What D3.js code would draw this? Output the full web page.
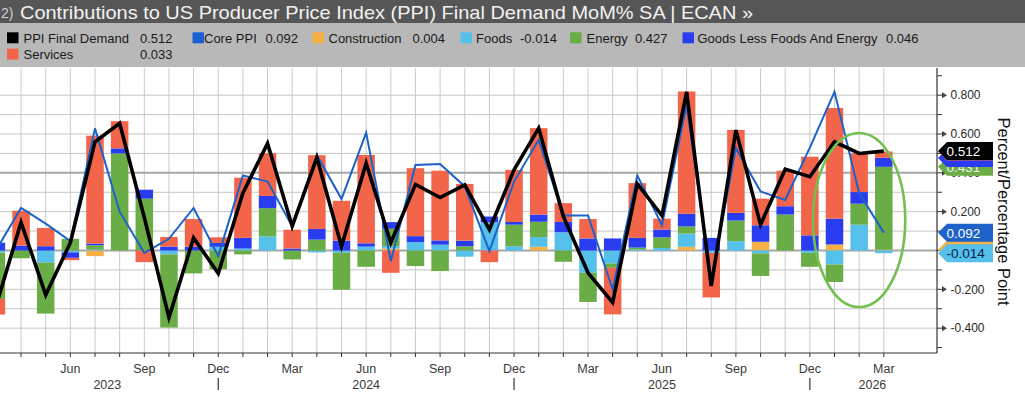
<!DOCTYPE html>
<html><head><meta charset="utf-8">
<script src="https://cdn.jsdelivr.net/npm/d3@7"></script>
<style>html,body{margin:0;padding:0;background:#fff;overflow:hidden}svg{display:block;font-family:"Liberation Sans",Arial,sans-serif}</style>
</head><body><svg id="c" width="1025" height="394"></svg>
<script>
const months = ["Mar 2023","Apr 2023","May 2023","Jun 2023","Jul 2023","Aug 2023","Sep 2023","Oct 2023","Nov 2023","Dec 2023","Jan 2024","Feb 2024","Mar 2024","Apr 2024","May 2024","Jun 2024","Jul 2024","Aug 2024","Sep 2024","Oct 2024","Nov 2024","Dec 2024","Jan 2025","Feb 2025","Mar 2025","Apr 2025","May 2025","Jun 2025","Jul 2025","Aug 2025","Sep 2025","Oct 2025","Nov 2025","Dec 2025","Jan 2026","Feb 2026","Mar 2026"];
const construction = [0,0,0,0,-0.029,0,0,0,0,0,0,0,0,0,0,0,0.01,0,0,0,0,0,0.019,0,0,0,0,0,0.019,0,0,0.045,0,0,0.031,0,0.004];
const foods = [-0.01,0,-0.063,-0.01,0.005,0,0,-0.02,0,0.019,0.01,0.073,0,-0.01,-0.012,0.02,0.012,0.043,0.03,-0.032,0.145,0.022,0.05,0.094,-0.115,-0.067,0.005,0.013,0.068,-0.012,0.048,-0.015,0,-0.012,-0.072,0.133,-0.014];
const energy = [-0.24,-0.04,-0.262,0.06,0.022,0.50,0.267,-0.377,-0.118,-0.097,-0.02,0.145,-0.046,0.056,-0.19,-0.084,0.09,-0.08,-0.106,0.022,0,0.111,0.079,-0.058,-0.15,-0.022,0.01,0.055,0.037,0,0.106,-0.116,0.185,-0.072,-0.09,0.108,0.427];
const goods = [0.04,0.025,0.022,-0.028,0.009,0.026,0.046,0.02,0.02,0.02,0.055,0.063,0.01,0.055,0.051,0.017,0.034,0.031,0.022,0.029,0.03,0.014,0.037,0.053,0.062,0.062,0.05,0.04,0.065,0.065,0.04,0.085,0.043,0.078,0.133,0.06,0.046];
const services = [-0.08,0.18,0.094,-0.012,0.555,0.14,-0.06,0.05,0.142,0.029,0.31,0.22,0.097,0.38,0.205,0.455,-0.115,0.35,0.359,0.292,-0.06,0.268,0.445,0.097,0.1,-0.24,0.282,0.056,0.63,-0.23,0.427,0.137,0.183,0.405,0.57,0.2,0.033];
const ppiFinal = [-0.28,0.145,-0.229,0.04,0.56,0.655,0.17,-0.345,0.065,-0.118,0.296,0.552,0.125,0.478,0.022,0.45,0.04,0.34,0.273,0.338,0.108,0.415,0.63,0.176,-0.115,-0.268,0.343,0.18,0.817,-0.183,0.62,0.133,0.419,0.38,0.56,0.50,0.512];
const corePPI = [0.005,0.219,0.138,0.048,0.629,0.20,-0.012,0.06,0.219,-0.029,0.386,0.355,0.125,0.492,0.265,0.607,-0.055,0.44,0.446,0.33,-0.003,0.355,0.57,0.18,0.18,-0.2,0.386,0.13,0.75,-0.15,0.527,0.304,0.26,0.53,0.817,0.296,0.092];
const gridValues = [-0.4,-0.3,-0.2,-0.1,0,0.1,0.2,0.3,0.4,0.5,0.6,0.7,0.8];
const axisTicks = [-0.5,-0.4,-0.3,-0.2,-0.1,0,0.1,0.2,0.3,0.4,0.5,0.6,0.7,0.8,0.9];
const axisLabels = [-0.4,-0.2,0.2,0.4,0.6,0.8];
const quarterMonths = ["Mar","Jun","Sep","Dec"];
const years = ["2023","2024","2025","2026"];
const title = "Contributions to US Producer Price Index (PPI) Final Demand MoM% SA | ECAN »";
const seriesNames = {ppi:"PPI Final Demand", core:"Core PPI", construction:"Construction", foods:"Foods", energy:"Energy", goods:"Goods Less Foods And Energy", services:"Services"};

const colors = {ppi:"#000000", core:"#1c62c8", construction:"#f5b046", foods:"#55c1ea", energy:"#6aac46", goods:"#2a3cf0", services:"#f2654a"};
const svg = d3.select("#c");
const P = {left:0, right:937, top:68, bottom:353};
const x = d3.scaleLinear().domain([0, months.length-1]).range([-3.6, 883.8]);
const y = d3.scaleLinear().domain([-0.528, 0.94]).range([P.bottom, P.top]);
const step = x(1)-x(0), bw = step*0.71;

// header
svg.append("rect").attr("x",0).attr("y",0).attr("width",1025).attr("height",23).attr("fill","#565656");
svg.append("rect").attr("x",0).attr("y",23).attr("width",1025).attr("height",44).attr("fill","#b8b8b8");
svg.append("text").attr("x",1).attr("y",18).attr("font-size",14).attr("fill","#d0d0d0").text("2)");
svg.append("text").attr("x",20).attr("y",19).attr("font-size",18.5).attr("fill","#f2f2f2")
  .attr("textLength",733).attr("lengthAdjust","spacingAndGlyphs").text(title);

// legend
const last = a => a[a.length-1].toFixed(3);
const legendItems = [
  {k:"ppi", v:last(ppiFinal), sx:7, tx:23.5, vx:140, row:0},
  {k:"core", v:last(corePPI), sx:192.5, tx:204, vx:265.5, row:0, col:"#1a5fd6"},
  {k:"construction", v:last(construction), sx:312.5, tx:328.5, vx:412.5, row:0},
  {k:"foods", v:last(foods), sx:460.5, tx:476, vx:520, row:0},
  {k:"energy", v:last(energy), sx:570, tx:586.5, vx:635, row:0},
  {k:"goods", v:last(goods), sx:682.5, tx:697.5, vx:886, row:0},
  {k:"services", v:last(services), sx:7, tx:23.5, vx:140, row:1}
];
const lg = svg.append("g").attr("font-size",13).attr("fill","#1a1a1a");
legendItems.forEach(it=>{
  const by = 43 + it.row*16.3;
  lg.append("rect").attr("x",it.sx).attr("y",by-10.7).attr("width",11.5).attr("height",11).attr("fill",it.col||colors[it.k]);
  lg.append("text").attr("x",it.tx).attr("y",by).text(seriesNames[it.k]);
  lg.append("text").attr("x",it.vx).attr("y",by).text(it.v);
});

// grid
const grid = svg.append("g");
months.forEach((m,i)=>{
  const xx = x(i);
  if (xx < P.left || xx > P.right) return;
  grid.append("line").attr("x1",xx).attr("x2",xx).attr("y1",P.top).attr("y2",P.bottom).attr("stroke","#cacaca").attr("stroke-width",1);
});
gridValues.forEach(v=>{
  const strong = (v===0 || Math.abs(v-0.4)<1e-9);
  grid.append("line").attr("x1",P.left).attr("x2",P.right).attr("y1",y(v)).attr("y2",y(v))
    .attr("stroke", strong?"#a6a6a6":"#c4c4c4").attr("stroke-width", strong?2:1);
});

// clip
svg.append("clipPath").attr("id","clip").append("rect").attr("x",P.left).attr("y",P.top).attr("width",P.right-P.left).attr("height",P.bottom-P.top);
const plot = svg.append("g").attr("clip-path","url(#clip)");

// stacked bars
const keys = ["construction","foods","energy","goods","services"];
const src = {construction, foods, energy, goods, services};
const rows = months.map((m,i)=>{const r={i}; keys.forEach(k=>r[k]=src[k][i]); return r;});
const stacked = d3.stack().keys(keys).offset(d3.stackOffsetDiverging)(rows);
stacked.forEach(s=>{
  plot.append("g").attr("fill",colors[s.key]).selectAll("rect").data(s).join("rect")
    .attr("x",d=>x(d.data.i)-bw/2).attr("width",bw)
    .attr("y",d=>y(Math.max(d[0],d[1]))).attr("height",d=>Math.abs(y(d[0])-y(d[1])));
});

// lines
const line = d3.line().x((d,i)=>x(i)).y(d=>y(d));
plot.append("path").datum(corePPI).attr("d",line).attr("fill","none").attr("stroke",colors.core).attr("stroke-width",2);
plot.append("path").datum(ppiFinal).attr("d",line).attr("fill","none").attr("stroke","#000").attr("stroke-width",3.6).attr("stroke-linejoin","miter");

// annotation ellipse
svg.append("ellipse").attr("cx",x(35)).attr("cy",y(0.157)).attr("rx",step*1.87).attr("ry",87)
  .attr("fill","none").attr("stroke","#72c04e").attr("stroke-width",2.6);

// x axis
const ax = svg.append("g").attr("fill","#3a3a3a").attr("font-size",12.5);
ax.append("line").attr("x1",P.left).attr("x2",P.right).attr("y1",P.bottom).attr("y2",P.bottom).attr("stroke","#333").attr("stroke-width",1.2);
months.forEach((m,i)=>{
  const xx = x(i);
  if (xx < P.left || xx > P.right) return;
  ax.append("line").attr("x1",xx).attr("x2",xx).attr("y1",P.bottom).attr("y2",P.bottom+4).attr("stroke","#333");
  const mon = m.slice(0,3);
  if (quarterMonths.includes(mon) && xx > 10) ax.append("text").attr("x",xx).attr("y",372.5).attr("text-anchor","middle").text(mon);
  if (mon==="Dec") ax.append("line").attr("x1",xx).attr("x2",xx).attr("y1",378).attr("y2",390).attr("stroke","#333").attr("stroke-width",1.2);
});
const decIdx = months.map((m,i)=>m.startsWith("Dec")?i:-1).filter(i=>i>=0);
const bounds = [P.left-3.6, ...decIdx.map(i=>x(i)), P.right-2];
years.forEach((yr,k)=>{
  ax.append("text").attr("x",(bounds[k]+bounds[k+1])/2).attr("y",389).attr("text-anchor","middle").text(yr);
});

// right axis
const ra = svg.append("g").attr("font-size",12).attr("fill","#2a2a2a");
ra.append("line").attr("x1",P.right).attr("x2",P.right).attr("y1",P.top).attr("y2",P.bottom).attr("stroke","#333").attr("stroke-width",1.2);
axisTicks.forEach(v=>{
  ra.append("line").attr("x1",P.right).attr("x2",P.right+5).attr("y1",y(v)).attr("y2",y(v)).attr("stroke","#333");
});
axisLabels.forEach(v=>{
  const yy = y(v);
  ra.append("path").attr("d",`M${P.right+5},${yy-3}L${P.right+10},${yy}L${P.right+5},${yy+3}Z`).attr("fill","#444");
  ra.append("text").attr("x",950.5).attr("y",yy+4.3).text(v.toFixed(3));
});
svg.append("text").attr("transform","translate(998,211.5) rotate(90)").attr("text-anchor","middle")
  .attr("font-size",16.5).attr("fill","#111").text("Percent/Percentage Point");

// value tags (hidden ones drawn without text, as in the reference)
const lastIdx = months.length-1;
const outer = k => { const d = stacked.find(s=>s.key===k)[lastIdx]; return src[k][lastIdx] >= 0 ? d[1] : d[0]; };
const tags = [
  {k:"construction", v:outer("construction"), fg:null},
  {k:"energy", v:outer("energy"), fg:"#f4f4f4"},
  {k:"goods", v:outer("goods"), fg:null},
  {k:"services", v:outer("services"), fg:null},
  {k:"foods", v:outer("foods"), fg:"#0d1b4a"},
  {k:"core", v:corePPI[lastIdx], fg:"#fff"},
  {k:"ppi", v:ppiFinal[lastIdx], fg:"#fff"}
];
const tg = svg.append("g").attr("font-size",13.5);
tags.forEach(t=>{
  const cy = y(t.v);
  tg.append("path").attr("d",`M${P.right+1},${cy}L${P.right+10},${cy-9}L993,${cy-9}L993,${cy+9}L${P.right+10},${cy+9}Z`).attr("fill",colors[t.k]);
  if (t.fg) tg.append("text").attr("x",946.5).attr("y",cy+5).attr("fill",t.fg).text(t.v.toFixed(3));
});
</script></body></html>
